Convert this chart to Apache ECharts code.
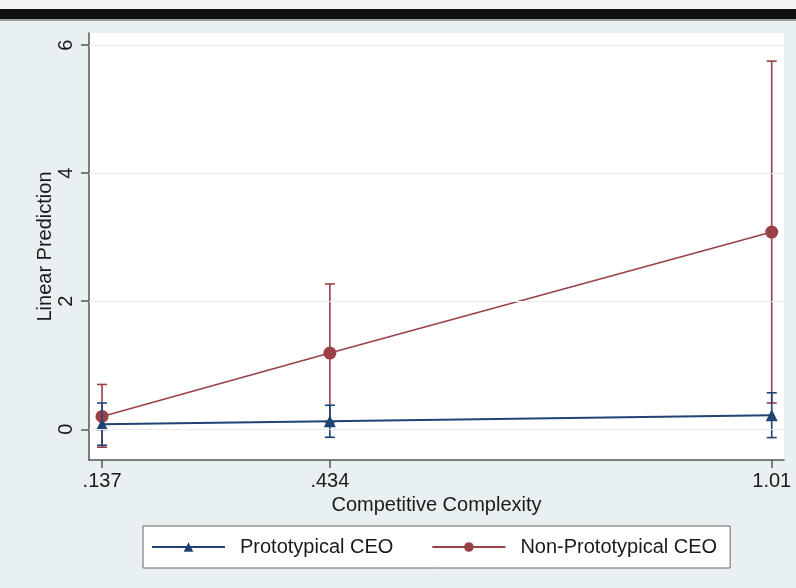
<!DOCTYPE html>
<html>
<head>
<meta charset="utf-8">
<script src="https://cdn.jsdelivr.net/npm/echarts@6/dist/echarts.min.js"></script>
<style>
html,body{margin:0;padding:0;background:#e8f0f1;}
#chart{width:796px;height:588px;}
</style>
</head>
<body>
<div id="chart"></div>
<script>
// ---- data ----
const xValues = [0.137, 0.434, 1.01];
const xTickValues = [0.137, 0.434, 1.01];
const xTickLabels = ['.137', '.434', '1.01'];
const yTickValues = [0, 2, 4, 6];
const seriesNames = ['Prototypical CEO', 'Non-Prototypical CEO'];
const protoMean = [0.08, 0.125, 0.22];
const protoLow = [-0.25, -0.125, -0.13];
const protoHigh = [0.41, 0.375, 0.57];
const nonMean = [0.20, 1.19, 3.08];
const nonLow = [-0.28, 0.11, 0.41];
const nonHigh = [0.70, 2.27, 5.75];

const BLUE = '#1f4474';
const RED = '#9a4047';
const TXT = '#1a1a1a';
const FONT = '"Liberation Sans", Arial, Helvetica, sans-serif';

function pairs(xs, ys) { return xs.map((x, i) => [x, ys[i]]); }
function ciData(xs, lo, hi) { return xs.map((x, i) => [x, lo[i], hi[i]]); }

function errRender(color, width) {
  return function (params, api) {
    const x = api.value(0);
    const lo = api.coord([x, api.value(1)]);
    const hi = api.coord([x, api.value(2)]);
    const hw = 5;
    const style = { stroke: color, lineWidth: width };
    return {
      type: 'group',
      children: [
        { type: 'line', shape: { x1: lo[0], y1: lo[1], x2: hi[0], y2: hi[1] }, style: style },
        { type: 'line', shape: { x1: lo[0] - hw, y1: lo[1], x2: lo[0] + hw, y2: lo[1] }, style: style },
        { type: 'line', shape: { x1: hi[0] - hw, y1: hi[1], x2: hi[0] + hw, y2: hi[1] }, style: style }
      ]
    };
  };
}

const chart = echarts.init(document.getElementById('chart'), null, { renderer: 'canvas' });
chart.setOption({
  backgroundColor: '#e8f0f1',
  animation: false,
  textStyle: { fontFamily: FONT },
  graphic: [
    { type: 'rect', shape: { x: 0, y: 0, width: 796, height: 9 }, style: { fill: '#f4f6f6' }, z: 0 },
    { type: 'rect', shape: { x: 0, y: 9, width: 796, height: 10 }, style: { fill: '#111111' }, z: 0 },
    { type: 'rect', shape: { x: 0, y: 19, width: 796, height: 2 }, style: { fill: '#9aa0a2' }, z: 0 },
    { type: 'rect', shape: { x: 89, y: 33, width: 695, height: 427 }, style: { fill: '#ffffff' }, z: 0, silent: true }
  ],
  grid: { left: 89, top: 33, right: 12, bottom: 128, containLabel: false },
  xAxis: {
    type: 'value',
    min: 0.120,
    max: 1.026,
    name: 'Competitive Complexity',
    nameLocation: 'middle',
    nameGap: 35,
    nameMoveOverlap: false,
    nameTextStyle: { fontSize: 20, color: TXT, fontFamily: FONT },
    axisLine: { show: true, onZero: false, lineStyle: { color: '#555', width: 1.5 } },
    axisTick: { show: true, length: 8, customValues: xTickValues, lineStyle: { color: '#555', width: 1.5 } },
    axisLabel: {
      customValues: xTickValues,
      margin: 11,
      fontSize: 20,
      color: TXT,
      fontFamily: FONT,
      formatter: function (v) {
        const i = xTickValues.findIndex(t => Math.abs(t - v) < 1e-9);
        return i >= 0 ? xTickLabels[i] : '';
      }
    },
    splitLine: { show: false }
  },
  yAxis: {
    type: 'value',
    min: -0.48,
    max: 6.19,
    name: 'Linear Prediction',
    nameLocation: 'middle',
    nameGap: 34,
    nameMoveOverlap: false,
    nameTextStyle: { fontSize: 20, color: TXT, fontFamily: FONT },
    axisLine: { show: true, onZero: false, lineStyle: { color: '#555', width: 1.5 } },
    axisTick: { show: true, length: 8, customValues: yTickValues, lineStyle: { color: '#555', width: 1.5 } },
    axisLabel: {
      customValues: yTickValues,
      rotate: 90,
      margin: 13,
      fontSize: 20,
      color: TXT,
      fontFamily: FONT,
      formatter: function (v) { return String(v); }
    },
    splitLine: { show: false }
  },
  legend: {
    left: 143,
    top: 526,
    data: seriesNames,
    orient: 'horizontal',
    itemWidth: 73,
    itemHeight: 12,
    itemGap: 38,
    padding: [11, 13, 11, 8],
    backgroundColor: '#ffffff',
    borderColor: '#666',
    borderWidth: 1,
    borderRadius: 0,
    textStyle: { fontSize: 20, color: TXT, fontFamily: FONT, padding: [0, 0, 0, 10] }
  },
  series: [
    {
      name: 'grid',
      type: 'line',
      data: [],
      silent: true,
      markLine: {
        silent: true,
        symbol: 'none',
        label: { show: false },
        lineStyle: { color: '#ececec', width: 1, type: 'solid' },
        data: yTickValues.map(v => ({ yAxis: v }))
      },
      z: 1
    },
    {
      name: seriesNames[1],
      type: 'line',
      data: pairs(xValues, nonMean),
      symbol: 'circle',
      symbolSize: 13,
      itemStyle: { color: RED },
      lineStyle: { color: RED, width: 1.6 },
      z: 3
    },
    {
      name: 'nonCI',
      type: 'custom',
      data: ciData(xValues, nonLow, nonHigh),
      renderItem: errRender(RED, 1.6),
      z: 3
    },
    {
      name: seriesNames[0],
      type: 'line',
      data: pairs(xValues, protoMean),
      symbol: 'triangle',
      symbolSize: 12,
      itemStyle: { color: BLUE },
      lineStyle: { color: BLUE, width: 2 },
      z: 4
    },
    {
      name: 'protoCI',
      type: 'custom',
      data: ciData(xValues, protoLow, protoHigh),
      renderItem: errRender(BLUE, 1.6),
      z: 4
    }
  ]
});
</script>
</body>
</html>
